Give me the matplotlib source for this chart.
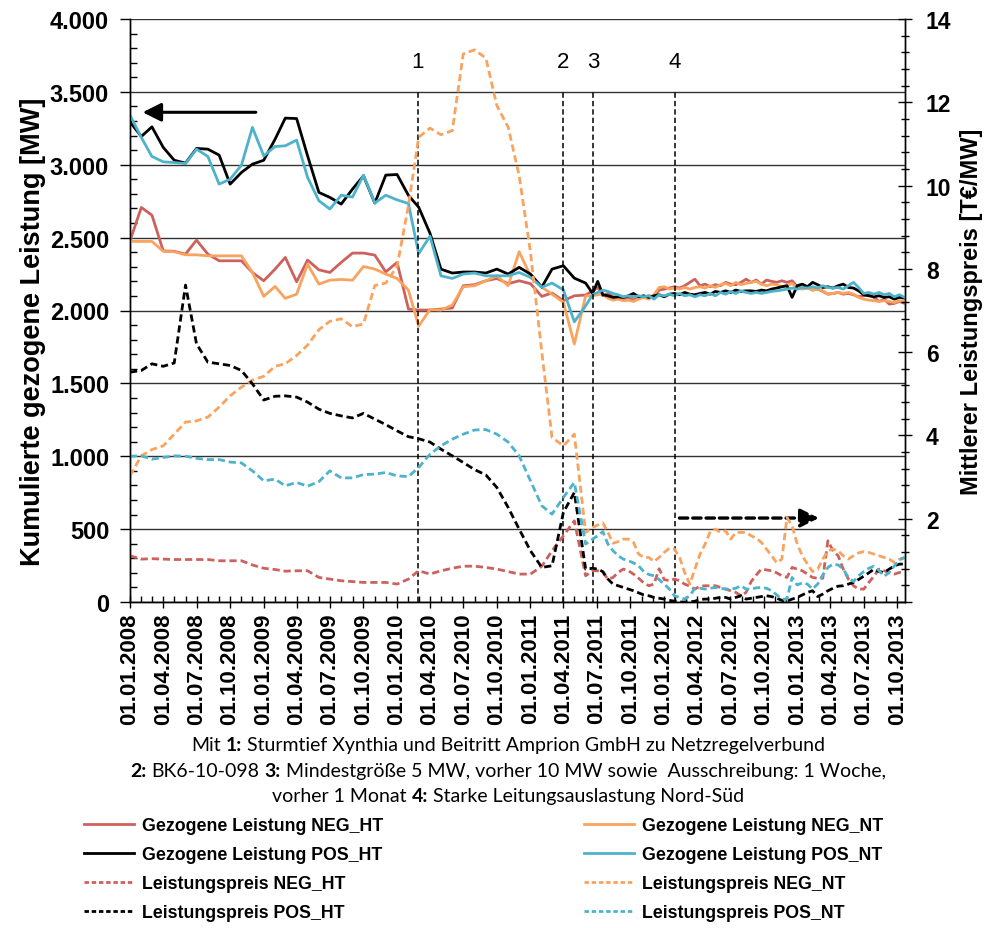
import numpy as np
import pandas as pd
import matplotlib
matplotlib.use("Agg")
import matplotlib.pyplot as plt
import matplotlib.dates as mdates
from matplotlib.lines import Line2D
from matplotlib.ticker import MultipleLocator, FuncFormatter
from matplotlib.font_manager import FontProperties

# ---------------- data ----------------
# monthly values Jan 2008 .. Jun 2011
monthly_start = "2008-01-01"
# weekly-period values (read every 2 weeks) from 20.06.2011
weekly_start = "2011-06-20"

gez_neg_ht_m = [2478, 2707, 2654, 2409, 2406, 2387, 2483, 2387, 2341, 2341, 2341, 2261,
                2204, 2284, 2364, 2197, 2346, 2279, 2261, 2330, 2394, 2394, 2380, 2265,
                2330, 2010, 2003, 2003, 2010, 2017, 2170, 2177, 2204, 2220, 2184, 2204,
                2184, 2097, 2120, 2067, 2101, 2106]
gez_neg_nt_m = [2474, 2474, 2474, 2406, 2403, 2382, 2382, 2375, 2375, 2375, 2375, 2261,
                2097, 2165, 2083, 2112, 2318, 2181, 2208, 2213, 2208, 2302, 2284, 2250,
                2220, 2140, 1893, 2006, 2003, 2037, 2163, 2170, 2204, 2238, 2170, 2403,
                2238, 2160, 2112, 2056, 1770, 2101]
gez_pos_ht_m = [3294, 3194, 3260, 3119, 3031, 3011, 3112, 3107, 3066, 2867, 2947, 3004,
                3031, 3175, 3320, 3317, 3061, 2810, 2776, 2730, 2833, 2924, 2737, 2929,
                2933, 2790, 2709, 2530, 2284, 2257, 2264, 2264, 2257, 2284, 2250, 2296,
                2250, 2160, 2284, 2307, 2222, 2188]
gez_pos_nt_m = [3340, 3187, 3057, 3020, 3015, 3008, 3107, 3057, 2867, 2901, 2997, 3256,
                3061, 3125, 3130, 3169, 2913, 2753, 2696, 2791, 2778, 2929, 2737, 2791,
                2759, 2734, 2390, 2510, 2238, 2220, 2250, 2257, 2238, 2238, 2238, 2261,
                2227, 2160, 2188, 2142, 1922, 2032]
lp_neg_ht_m = [1.11, 1.03, 1.04, 1.03, 1.02, 1.02, 1.02, 1.02, 0.99, 0.99, 0.99, 0.89,
               0.81, 0.78, 0.74, 0.75, 0.75, 0.59, 0.55, 0.51, 0.49, 0.47, 0.47, 0.47,
               0.43, 0.55, 0.75, 0.67, 0.75, 0.81, 0.86, 0.86, 0.83, 0.79, 0.73, 0.67,
               0.67, 0.86, 1.23, 1.59, 1.95, 0.63]
lp_neg_nt_m = [3.03, 3.51, 3.66, 3.75, 4.03, 4.32, 4.35, 4.44, 4.68, 4.95, 5.16, 5.33,
               5.42, 5.66, 5.72, 5.92, 6.17, 6.54, 6.74, 6.80, 6.61, 6.68, 7.60, 7.66,
               8.06, 9.52, 11.16, 11.38, 11.22, 11.32, 13.16, 13.26, 13.06, 11.92, 11.40, 10.24,
               8.40, 6.00, 3.95, 3.75, 4.03, 1.67]
lp_pos_ht_m = [5.52, 5.56, 5.72, 5.66, 5.74, 7.61, 6.20, 5.76, 5.72, 5.68, 5.56, 5.24,
               4.85, 4.94, 4.95, 4.92, 4.80, 4.63, 4.53, 4.47, 4.42, 4.53, 4.39, 4.26,
               4.11, 3.97, 3.92, 3.84, 3.67, 3.51, 3.35, 3.18, 3.05, 2.75, 2.27, 1.75,
               1.23, 0.83, 0.87, 2.15, 2.63, 0.79]
lp_pos_nt_m = [3.50, 3.51, 3.43, 3.47, 3.51, 3.50, 3.45, 3.42, 3.42, 3.36, 3.34, 3.15,
               2.91, 2.95, 2.79, 2.87, 2.78, 2.89, 3.15, 2.98, 2.98, 3.06, 3.07, 3.11,
               3.03, 3.01, 3.23, 3.55, 3.75, 3.91, 4.03, 4.13, 4.14, 4.03, 3.84, 3.51,
               2.91, 2.31, 2.11, 2.51, 2.87, 1.39]

gez_neg_ht_w = [2135, 2158, 2101, 2117, 2094, 2085, 2078, 2090, 2071, 2094, 2090, 2101,
                2094, 2140, 2147, 2154, 2163, 2154, 2170, 2193, 2215, 2170, 2181, 2163,
                2177, 2170, 2193, 2181, 2177, 2193, 2215, 2193, 2209, 2181, 2209, 2200,
                2193, 2204, 2193, 2204, 2163, 2154, 2158, 2140, 2147, 2131, 2112, 2117,
                2124, 2112, 2117, 2108, 2094, 2101, 2108, 2090, 2062, 2078, 2044, 2049,
                2062, 2049]
gez_neg_nt_w = [2101, 2108, 2112, 2085, 2071, 2078, 2067, 2071, 2062, 2078, 2090, 2078,
                2108, 2158, 2163, 2147, 2154, 2147, 2158, 2147, 2158, 2163, 2154, 2170,
                2158, 2177, 2186, 2170, 2193, 2177, 2186, 2193, 2200, 2181, 2170, 2181,
                2177, 2163, 2170, 2186, 2154, 2147, 2154, 2140, 2147, 2135, 2112, 2117,
                2124, 2117, 2124, 2112, 2090, 2078, 2071, 2067, 2062, 2067, 2062, 2055,
                2067, 2062]
gez_pos_ht_w = [2117, 2200, 2108, 2101, 2090, 2094, 2090, 2101, 2117, 2094, 2101, 2090,
                2101, 2108, 2094, 2112, 2117, 2108, 2124, 2112, 2108, 2117, 2124, 2112,
                2131, 2124, 2135, 2124, 2140, 2131, 2135, 2135, 2131, 2140, 2135, 2147,
                2154, 2163, 2170, 2090, 2170, 2181, 2163, 2193, 2177, 2158, 2163, 2154,
                2170, 2181, 2158, 2154, 2135, 2108, 2101, 2094, 2101, 2090, 2094, 2078,
                2090, 2085]
gez_pos_nt_w = [2108, 2124, 2140, 2131, 2117, 2108, 2094, 2101, 2094, 2101, 2094, 2101,
                2078, 2108, 2101, 2112, 2101, 2117, 2101, 2108, 2094, 2108, 2101, 2117,
                2101, 2124, 2112, 2131, 2117, 2135, 2124, 2117, 2124, 2117, 2124, 2131,
                2135, 2140, 2147, 2154, 2147, 2158, 2154, 2163, 2154, 2170, 2158, 2154,
                2158, 2147, 2170, 2193, 2158, 2117, 2124, 2112, 2124, 2108, 2117, 2094,
                2108, 2090]
lp_neg_ht_w = [0.75, 0.75, 0.71, 0.55, 0.59, 0.71, 0.79, 0.75, 0.67, 0.57, 0.46, 0.39,
               0.43, 0.80, 0.54, 0.51, 0.55, 0.51, 0.43, 0.38, 0.31, 0.38, 0.39, 0.39,
               0.39, 0.35, 0.31, 0.27, 0.23, 0.15, 0.23, 0.49, 0.65, 0.79, 0.77, 0.75,
               0.70, 0.63, 0.59, 0.83, 0.79, 0.75, 0.67, 0.59, 0.57, 0.57, 1.47, 1.23,
               1.11, 0.79, 0.55, 0.39, 0.31, 0.31, 0.47, 0.62, 0.79, 0.75, 0.70, 0.67,
               0.71, 0.67]
lp_neg_nt_w = [1.79, 1.85, 1.90, 1.67, 1.41, 1.45, 1.51, 1.51, 1.43, 1.15, 1.07, 1.07,
               0.97, 1.07, 1.19, 1.29, 1.27, 1.07, 0.71, 0.43, 0.79, 1.15, 1.39, 1.69,
               1.75, 1.67, 1.71, 1.51, 1.67, 1.67, 1.67, 1.59, 1.53, 1.43, 1.27, 1.11,
               0.94, 1.03, 2.03, 1.83, 1.39, 1.11, 0.91, 0.73, 0.79, 1.03, 1.23, 1.27,
               1.23, 1.11, 1.03, 1.11, 1.18, 1.21, 1.19, 1.15, 1.11, 1.07, 1.03, 0.95,
               1.03, 1.07]
lp_pos_ht_w = [0.81, 0.79, 0.73, 0.55, 0.43, 0.39, 0.35, 0.31, 0.27, 0.22, 0.17, 0.15,
               0.11, 0.09, 0.07, 0.04, 0.02, 0.00, 0.00, 0.00, 0.02, 0.06, 0.07, 0.07,
               0.09, 0.11, 0.11, 0.07, 0.11, 0.15, 0.07, 0.09, 0.11, 0.13, 0.15, 0.13,
               0.09, 0.04, 0.02, 0.07, 0.11, 0.17, 0.23, 0.27, 0.13, 0.19, 0.27, 0.33,
               0.38, 0.39, 0.43, 0.47, 0.54, 0.62, 0.70, 0.79, 0.73, 0.71, 0.79, 0.87,
               0.91, 0.91]
lp_pos_nt_w = [1.51, 1.59, 1.69, 1.39, 1.23, 1.11, 1.03, 0.99, 0.94, 0.87, 0.73, 0.66,
               0.63, 0.54, 0.43, 0.31, 0.15, 0.11, 0.07, 0.15, 0.33, 0.33, 0.31, 0.33,
               0.35, 0.33, 0.31, 0.31, 0.33, 0.39, 0.31, 0.31, 0.34, 0.35, 0.33, 0.27,
               0.17, 0.07, 0.07, 0.59, 0.41, 0.46, 0.43, 0.31, 0.43, 0.65, 0.83, 0.91,
               0.89, 0.79, 0.59, 0.49, 0.63, 0.73, 0.81, 0.86, 0.75, 0.62, 0.71, 0.87,
               1.01, 1.07]

event_dates = ["2010-02-26", "2011-03-30", "2011-06-22", "2012-02-01"]
event_labels = ["1", "2", "3", "4"]

series_labels = ["Gezogene Leistung NEG_HT", "Gezogene Leistung NEG_NT",
                 "Gezogene Leistung POS_HT", "Gezogene Leistung POS_NT",
                 "Leistungspreis NEG_HT", "Leistungspreis NEG_NT",
                 "Leistungspreis POS_HT", "Leistungspreis POS_NT"]

# ---------------- style ----------------
C_RED = "#CD615C"
C_ORA = "#F9A35F"
C_BLK = "#000000"
C_CYA = "#4DB3CB"
BOLD = "Liberation Sans"

dates_m = pd.date_range(monthly_start, periods=len(gez_neg_ht_m), freq="MS")
dates_w = pd.date_range(weekly_start, periods=len(gez_neg_ht_w), freq="14D")
dates = dates_m.append(dates_w)

def join(a, b):
    return np.array(list(a) + list(b), dtype=float)

fig = plt.figure(figsize=(9.87, 9.29), dpi=100)
W, H = 987, 929
ax = fig.add_axes([130 / W, 1 - 603 / H, 775 / W, 583 / H])
ax2 = ax.twinx()

lw = 2.0
dash = (0, (2.6, 1.4))

ax.plot(dates, join(gez_neg_ht_m, gez_neg_ht_w), color=C_RED, lw=lw, zorder=3)
ax.plot(dates, join(gez_neg_nt_m, gez_neg_nt_w), color=C_ORA, lw=lw, zorder=3)
ax.plot(dates, join(gez_pos_ht_m, gez_pos_ht_w), color=C_BLK, lw=lw, zorder=3)
ax.plot(dates, join(gez_pos_nt_m, gez_pos_nt_w), color=C_CYA, lw=lw, zorder=3)

ax2.plot(dates, join(lp_neg_ht_m, lp_neg_ht_w), color=C_RED, lw=lw, ls=dash)
ax2.plot(dates, join(lp_neg_nt_m, lp_neg_nt_w), color=C_ORA, lw=lw, ls=dash)
ax2.plot(dates, join(lp_pos_ht_m, lp_pos_ht_w), color=C_BLK, lw=lw, ls=dash)
ax2.plot(dates, join(lp_pos_nt_m, lp_pos_nt_w), color=C_CYA, lw=lw, ls=dash)

# axes limits and ticks
ax.set_xlim(pd.Timestamp("2008-01-01"), pd.Timestamp("2013-10-22"))
ax.set_ylim(0, 4000)
ax2.set_ylim(0, 14)

ax.yaxis.set_major_locator(MultipleLocator(500))
ax.yaxis.set_minor_locator(MultipleLocator(100))
ax.yaxis.set_major_formatter(FuncFormatter(lambda v, p: f"{int(v):,}".replace(",", ".")))
ax2.yaxis.set_major_locator(MultipleLocator(2))
ax2.yaxis.set_minor_locator(MultipleLocator(0.4))
ax2.yaxis.set_major_formatter(FuncFormatter(lambda v, p: "" if v == 0 else f"{int(v)}"))

ax.xaxis.set_major_locator(mdates.MonthLocator(bymonth=[1, 4, 7, 10], bymonthday=1))
ax.xaxis.set_minor_locator(mdates.MonthLocator(bymonthday=1))
ax.xaxis.set_major_formatter(mdates.DateFormatter("%d.%m.%Y"))

for lab in ax.get_yticklabels():
    lab.set_fontproperties(FontProperties(family=BOLD, weight="bold", size=17))
for lab in ax2.get_yticklabels():
    lab.set_fontproperties(FontProperties(family=BOLD, weight="bold", size=16.5))
ax.tick_params(axis="x", which="major", direction="inout", length=9, width=1, labelrotation=90, pad=3)
ax.tick_params(axis="x", which="minor", direction="in", length=4, width=1)
ax.tick_params(axis="y", which="major", direction="out", length=7, width=1, pad=8)
ax.tick_params(axis="y", which="minor", direction="in", length=5, width=1)
ax2.tick_params(axis="y", which="major", direction="inout", length=10, width=1, pad=10)
ax2.tick_params(axis="y", which="minor", direction="inout", length=6, width=1)
for lab in ax.get_xticklabels():
    lab.set_fontproperties(FontProperties(family=BOLD, weight="bold", size=16))
    lab.set_rotation(90)

ax.grid(True, which="major", axis="y", color="#333333", lw=1.0, zorder=0)
ax.spines["top"].set_visible(False)
ax2.spines["top"].set_visible(False)
for s in ["left", "bottom", "right"]:
    ax2.spines[s].set_linewidth(1.0)
    ax.spines[s].set_linewidth(1.0)

ax.set_ylabel("Kumulierte gezogene Leistung [MW]", fontsize=19.5, fontweight="bold", family=BOLD)
ax.yaxis.set_label_coords(-0.108, 0.465)
ax2.set_ylabel("Mittlerer Leistungspreis [T€/MW]", fontsize=17, fontweight="bold", family=BOLD, labelpad=6)

# event lines
for d, l in zip(event_dates, event_labels):
    ax.vlines(pd.Timestamp(d), 0, 3500, colors="k", lw=1.1, linestyles=(0, (3.5, 2)), zorder=4)
    ax.text(pd.Timestamp(d), 3710, l, ha="center", va="center", fontsize=16, family=BOLD)

# arrows
ax.annotate("", xy=(pd.Timestamp("2008-01-28"), 3360), xytext=(pd.Timestamp("2008-12-18"), 3360),
            arrowprops=dict(arrowstyle="-|>", lw=2.2, color="k", mutation_scale=28), zorder=5)
ax.annotate("", xy=(pd.Timestamp("2013-03-08"), 576), xytext=(pd.Timestamp("2012-02-05"), 576),
            arrowprops=dict(arrowstyle="-|>", lw=2.4, color="k", mutation_scale=28,
                            linestyle=(0, (2.5, 1.5))), zorder=5)

# caption with mixed bold
renderer = fig.canvas.get_renderer()
CAP = "Lato"
cap_size = 14

def rich_line(ypx, parts, cx=508):
    objs = []
    for s, b in parts:
        t = fig.text(0, 1 - ypx / H, s, fontsize=cap_size, family=CAP,
                     fontweight="bold" if b else "normal", va="center", ha="left")
        objs.append(t)
    sp = fig.text(0, 0, "x x", fontsize=cap_size, family=CAP)
    sp2 = fig.text(0, 0, "xx", fontsize=cap_size, family=CAP)
    gap = sp.get_window_extent(renderer).width - sp2.get_window_extent(renderer).width
    sp.remove(); sp2.remove()
    widths = [o.get_window_extent(renderer).width for o in objs]
    total = sum(widths) + gap * (len(objs) - 1)
    x = cx - total / 2
    for o, w in zip(objs, widths):
        o.set_x(x / W)
        x += w + gap

rich_line(746, [("Mit", False), ("1:", True), ("Sturmtief Xynthia und Beitritt Amprion GmbH zu Netzregelverbund", False)])
rich_line(772, [("2:", True), ("BK6-10-098", False), ("3:", True),
                ("Mindestgröße 5 MW, vorher 10 MW sowie  Ausschreibung: 1 Woche,", False)])
rich_line(797, [("vorher 1 Monat", False), ("4:", True), ("Starke Leitungsauslastung Nord-Süd", False)])

# legend
ls_leg = (0, (1.6, 1.0))
handles = [
    Line2D([], [], color=C_RED, lw=lw), Line2D([], [], color=C_BLK, lw=lw),
    Line2D([], [], color=C_RED, lw=lw, ls=ls_leg), Line2D([], [], color=C_BLK, lw=lw, ls=ls_leg),
    Line2D([], [], color=C_ORA, lw=lw), Line2D([], [], color=C_CYA, lw=lw),
    Line2D([], [], color=C_ORA, lw=lw, ls=ls_leg), Line2D([], [], color=C_CYA, lw=lw, ls=ls_leg),
]
labels = [series_labels[0], series_labels[2], series_labels[4], series_labels[6],
          series_labels[1], series_labels[3], series_labels[5], series_labels[7]]
fig.legend(handles, labels, ncol=2, loc="upper left", bbox_to_anchor=(84 / W, 1 - 818 / H),
           frameon=False, prop=dict(family=BOLD, weight="bold", size=12.8),
           handlelength=2.81, handletextpad=0.45, labelspacing=0.68, columnspacing=11.3,
           borderaxespad=0, borderpad=0)

fig.savefig("out.png", dpi=100)
